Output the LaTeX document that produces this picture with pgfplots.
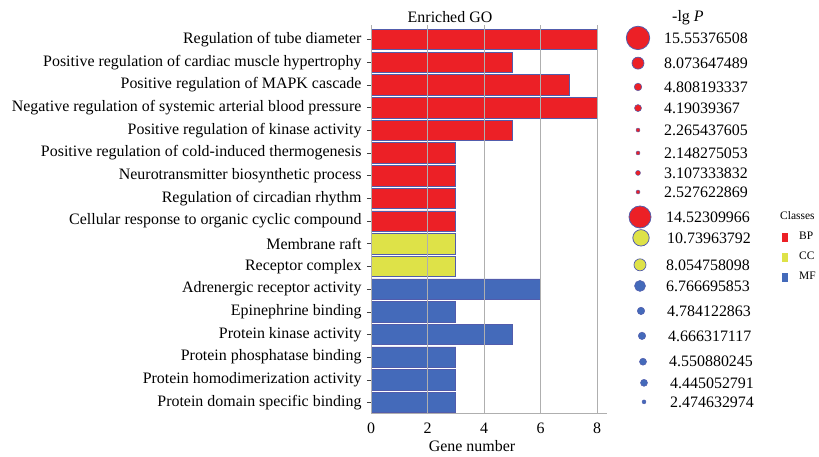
\documentclass[border=0pt]{standalone}
\usepackage{pgfplots}
\pgfplotsset{compat=1.18}
\usepackage{pgfplotstable}
\usepackage{fontspec}
\setmainfont{Liberation Serif}
\definecolor{cRed}{RGB}{236,32,38}
\definecolor{cYel}{RGB}{222,226,72}
\definecolor{cBlue}{RGB}{68,106,186}
\definecolor{cEdge}{RGB}{82,92,172}
\definecolor{cGrid}{RGB}{175,175,175}
\newcommand\bigf{\fontsize{16}{18}\selectfont}
\newcommand\smallf{\fontsize{11.5}{13}\selectfont}

% bars: y = 18 - row
\pgfplotstableread{
y n
17 8
16 5
15 7
14 8
13 5
12 3
11 3
10 3
9 3
}\bp
\pgfplotstableread{
y n
8 3
7 3
}\cc
\pgfplotstableread{
y n
6 6
5 3
4 5
3 3
2 3
1 3
}\mf

% -lg P values (x, y position in the column)
\pgfplotstableread{
x y label
-2 17.07 15.55376508
-2 15.96 8.073647489
-2 14.91 4.808193337
-2 13.98 4.19039367
-2 13.01 2.265437605
-2 12.00 2.148275053
-2 11.12 3.107333832
-2 10.28 2.527622869
0 9.18 14.52309966
1 8.26 10.73963792
0 7.07 8.054758098
0 6.14 6.766695853
1 5.04 4.784122863
2 3.94 4.666317117
3 2.80 4.550880245
4 1.87 4.445052791
4 1.03 2.474632974
}\pval

\pgfplotsset{
  clsbar/.style={xbar, bar shift=0pt, bar width=0.9, draw=cEdge, line width=0.6bp,
    legend image code/.code={\fill[##1,draw=none] (0bp,-4.5bp) rectangle (6bp,4.5bp); \path[draw=none,fill=none] (0bp,0bp) -- (17bp,0bp);}},
}
\newcommand\circp[5]{\addplot[only marks, mark=*, mark size=#3bp, mark options={fill=#4, draw=cEdge, line width=#5bp}] coordinates {(#1,#2)};}

\begin{document}
\bigf
\begin{tikzpicture}
\path[use as bounding box] (0bp,0bp) rectangle (819bp,-457bp);
\begin{axis}[
  scale only axis, width=236bp, height=388bp,
  at={(371bp,-413bp)}, anchor=south west,
  xmin=0, xmax=8.35, ymin=0.54, ymax=17.64,
  axis x line=bottom, axis y line=left,
  axis line style={-, draw=cGrid, line width=0.8bp},
  xtick={0,2,4,6,8}, xmajorgrids, grid style={draw=cGrid, line width=0.8bp},
  x tick style={draw=none},
  ytick={1,...,17},
  yticklabels={Protein domain specific binding, Protein homodimerization activity, Protein phosphatase binding, Protein kinase activity, Epinephrine binding, Adrenergic receptor activity, Receptor complex, Membrane raft, Cellular response to organic cyclic compound, Regulation of circadian rhythm, Neurotransmitter biosynthetic process, Positive regulation of cold-induced thermogenesis, Positive regulation of kinase activity, Negative regulation of systemic arterial blood pressure, Positive regulation of MAPK cascade, Positive regulation of cardiac muscle hypertrophy, Regulation of tube diameter},
  y tick style={draw=black!75, line width=0.6bp},
  tick align=outside, major tick length=4bp,
  yticklabel style={font=\bigf},
  xticklabel style={font=\bigf},
  /pgf/number format/assume math mode=true,
  axis on top,
  xlabel={Gene number},
  xlabel style={font=\bigf, at={(axis description cs:0.428,0)}, anchor=base, yshift=-38bp},
  clip=false,
  legend style={at={(axis description cs:1.7415,0.4665)}, anchor=north west, draw=none, fill=none,
    inner sep=0pt, font=\smallf, row sep=10bp, nodes={inner sep=0pt}},
  legend cell align=left,
]
\addplot[clsbar, fill=cRed] table[x=n, y=y] {\bp};
\addlegendentry{BP}
\addplot[clsbar, fill=cYel] table[x=n, y=y] {\cc};
\addlegendentry{CC}
\addplot[clsbar, fill=cBlue] table[x=n, y=y] {\mf};
\addlegendentry{MF}
\end{axis}

\begin{axis}[
  scale only axis, width=40bp, height=388bp,
  at={(620bp,-413bp)}, anchor=south west,
  xmin=-20, xmax=20, ymin=0.54, ymax=17.64,
  hide axis, clip=false,
]
\circp{-2}{17.07}{11.7}{cRed}{0.8}
\circp{-2}{15.96}{6.0}{cRed}{0.7}
\circp{-2}{14.91}{3.8}{cRed}{0.5}
\circp{-2}{13.98}{3.5}{cRed}{0.5}
\circp{-2}{13.01}{2.0}{cRed}{0.4}
\circp{-2}{12.00}{2.0}{cRed}{0.4}
\circp{-2}{11.12}{2.5}{cRed}{0.4}
\circp{-2}{10.28}{2.0}{cRed}{0.4}
\circp{0}{9.18}{11.0}{cRed}{0.8}
\circp{1}{8.26}{8.2}{cYel}{0.8}
\circp{0}{7.07}{6.0}{cYel}{0.7}
\circp{0}{6.14}{5.5}{cBlue}{0.5}
\circp{1}{5.04}{3.7}{cBlue}{0.5}
\circp{2}{3.94}{3.7}{cBlue}{0.5}
\circp{3}{2.80}{3.5}{cBlue}{0.5}
\circp{4}{1.87}{3.5}{cBlue}{0.5}
\circp{4}{1.03}{2.0}{cBlue}{0.4}
\addplot[draw=none, mark=none, point meta=explicit symbolic, nodes near coords,
  every node near coord/.append style={anchor=west, inner sep=0pt, xshift=26bp, font=\bigf, text=black}]
  table[x=x, y=y, meta=label] {\pval};
\end{axis}

\node[font=\bigf, anchor=base] at (450bp,-22bp) {Enriched GO};
\node[font=\bigf, anchor=base west, inner sep=0pt] at (672bp,-21bp) {-lg \textit{P}};
\node[font=\smallf, anchor=base west, inner sep=0pt] at (780bp,-219bp) {Classes};
\end{tikzpicture}
\end{document}
